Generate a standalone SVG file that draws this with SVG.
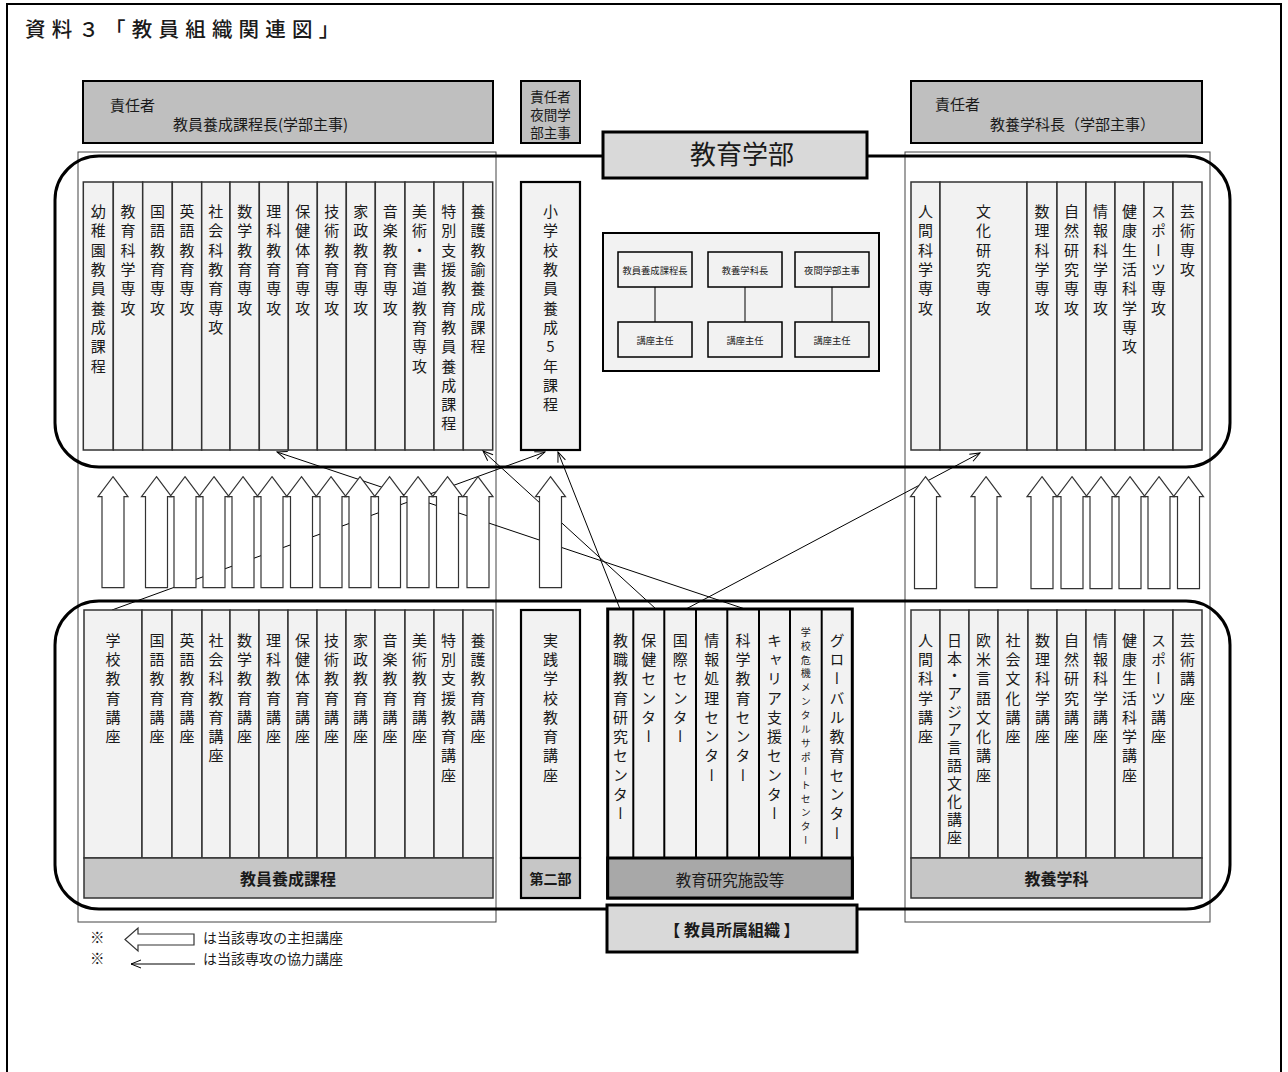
<svg xmlns="http://www.w3.org/2000/svg" width="1288" height="1072" viewBox="0 0 1288 1072">
<style>
text{font-family:"Noto Sans CJK JP","Noto Sans",sans-serif;fill:#1a1a1a}
.v{writing-mode:vertical-rl;text-orientation:upright;font-size:15px;letter-spacing:4.3px}
.vs{writing-mode:vertical-rl;text-orientation:upright;font-size:10px;letter-spacing:3.9px}
.col{fill:#f2f2f2;stroke:#333;stroke-width:1.5}
.colb{fill:#f2f2f2;stroke:#000;stroke-width:2.2}
.hdr{fill:#bfbfbf;stroke:#000;stroke-width:2}
.band{fill:#c6c6c6;stroke:#333;stroke-width:1.5}
.frame{fill:none;stroke:#444;stroke-width:1}
.round{fill:none;stroke:#000;stroke-width:3}
.blk{fill:#fff;stroke:#333;stroke-width:1.2}
.thin{fill:none;stroke:#000;stroke-width:1}
.sm{font-size:9.3px;text-anchor:middle}
.h15{font-size:15px}
.bold{font-weight:bold;text-anchor:middle}
</style>
<defs>
<marker id="oa" markerWidth="12" markerHeight="10" refX="11" refY="5" orient="auto" markerUnits="userSpaceOnUse">
<path d="M1,1 L11,5 L1,9" fill="none" stroke="#000" stroke-width="1"/>
</marker>
</defs>
<rect x="7" y="4" width="1274" height="1080" fill="#fff" stroke="#000" stroke-width="2"/>
<text x="25" y="37" style="font-size:20.5px;letter-spacing:6.2px;font-weight:500">資料３「教員組織関連図」</text>

<g id="frames">
<rect class="frame" x="78" y="152" width="418" height="770"/>
<rect class="frame" x="905" y="152" width="305" height="770"/>
<rect class="round" x="55" y="156" width="1175" height="311" rx="44"/>
<rect class="round" x="55" y="601" width="1175" height="308" rx="44"/>
</g>

<g id="hdr-left">
<rect class="hdr" x="83" y="81" width="410" height="62"/>
<text class="h15" x="110" y="111">責任者</text>
<text class="h15" x="173" y="130">教員養成課程長(学部主事)</text>
</g>
<g id="hdr-mid">
<rect class="hdr" x="521" y="81" width="59" height="62"/>
<text x="550.5" y="102" style="font-size:13.5px;text-anchor:middle">責任者</text>
<text x="550.5" y="120" style="font-size:13.5px;text-anchor:middle">夜間学</text>
<text x="550.5" y="138" style="font-size:13.5px;text-anchor:middle">部主事</text>
</g>
<g id="hdr-right">
<rect class="hdr" x="911" y="81" width="291" height="62"/>
<text class="h15" x="935" y="110">責任者</text>
<text class="h15" x="990" y="130">教養学科長（学部主事）</text>
</g>
<g id="faculty">
<rect x="603" y="132" width="264" height="46" fill="#d9d9d9" stroke="#000" stroke-width="3"/>
<text x="742" y="164" style="font-size:26px;text-anchor:middle">教育学部</text>
</g>

<g id="top-left-majors">
<rect class="col" x="83.3" y="182" width="30" height="268"/><text class="v" x="98.3" y="204">幼稚園教員養成課程</text>
<rect class="col" x="113.3" y="182" width="29.4" height="268"/><text class="v" x="128" y="204">教育科学専攻</text>
<rect class="col" x="142.7" y="182" width="29.6" height="268"/><text class="v" x="157.5" y="204">国語教育専攻</text>
<rect class="col" x="172.3" y="182" width="29.4" height="268"/><text class="v" x="187" y="204">英語教育専攻</text>
<rect class="col" x="201.7" y="182" width="28.3" height="268"/><text class="v" x="215.8" y="204">社会科教育専攻</text>
<rect class="col" x="230" y="182" width="29.3" height="268"/><text class="v" x="244.7" y="204">数学教育専攻</text>
<rect class="col" x="259.3" y="182" width="29" height="268"/><text class="v" x="273.8" y="204">理科教育専攻</text>
<rect class="col" x="288.3" y="182" width="29" height="268"/><text class="v" x="302.8" y="204">保健体育専攻</text>
<rect class="col" x="317.3" y="182" width="29" height="268"/><text class="v" x="331.8" y="204">技術教育専攻</text>
<rect class="col" x="346.3" y="182" width="29" height="268"/><text class="v" x="360.8" y="204">家政教育専攻</text>
<rect class="col" x="375.3" y="182" width="29.7" height="268"/><text class="v" x="390.2" y="204">音楽教育専攻</text>
<rect class="col" x="405" y="182" width="29" height="268"/><text class="v" x="419.5" y="204">美術・書道教育専攻</text>
<rect class="col" x="434" y="182" width="29.3" height="268"/><text class="v" x="448.7" y="204">特別支援教育教員養成課程</text>
<rect class="col" x="463.3" y="182" width="29.4" height="268"/><text class="v" x="478" y="204">養護教諭養成課程</text>
</g>

<g id="elementary">
<rect class="colb" x="521" y="182" width="59" height="268"/>
<text class="v" x="550.5" y="204">小学校教員養成5年課程</text>
</g>

<g id="leaders">
<rect x="603" y="233" width="276" height="138" fill="#f2f2f2" stroke="#000" stroke-width="2"/>
<rect x="618" y="252" width="74" height="35" fill="#f2f2f2" stroke="#000" stroke-width="1.5"/>
<rect x="708" y="252" width="74" height="35" fill="#f2f2f2" stroke="#000" stroke-width="1.5"/>
<rect x="795" y="252" width="74" height="35" fill="#f2f2f2" stroke="#000" stroke-width="1.5"/>
<rect x="618" y="322" width="74" height="35" fill="#f2f2f2" stroke="#000" stroke-width="1.5"/>
<rect x="708" y="322" width="74" height="35" fill="#f2f2f2" stroke="#000" stroke-width="1.5"/>
<rect x="795" y="322" width="74" height="35" fill="#f2f2f2" stroke="#000" stroke-width="1.5"/>
<path d="M655,287V322M745,287V322M832,287V322" stroke="#000" stroke-width="1"/>
<text class="sm" x="655" y="274">教員養成課程長</text>
<text class="sm" x="745" y="274">教養学科長</text>
<text class="sm" x="832" y="274">夜間学部主事</text>
<text class="sm" x="655" y="344">講座主任</text>
<text class="sm" x="745" y="344">講座主任</text>
<text class="sm" x="832" y="344">講座主任</text>
</g>

<g id="top-right-majors">
<rect class="col" x="911" y="182" width="29" height="268"/><text class="v" x="925.5" y="204">人間科学専攻</text>
<rect class="col" x="940" y="182" width="87" height="268"/><text class="v" x="983.5" y="204">文化研究専攻</text>
<rect class="col" x="1027" y="182" width="30" height="268"/><text class="v" x="1042" y="204">数理科学専攻</text>
<rect class="col" x="1057" y="182" width="29" height="268"/><text class="v" x="1071.5" y="204">自然研究専攻</text>
<rect class="col" x="1086" y="182" width="29" height="268"/><text class="v" x="1100.5" y="204">情報科学専攻</text>
<rect class="col" x="1115" y="182" width="29" height="268"/><text class="v" x="1129.5" y="204">健康生活科学専攻</text>
<rect class="col" x="1144" y="182" width="29" height="268"/><text class="v" x="1158.5" y="204">スポーツ専攻</text>
<rect class="col" x="1173" y="182" width="29" height="268"/><text class="v" x="1187.5" y="204">芸術専攻</text>
</g>

<g id="connectors">
<path class="thin" d="M112,610L545,452" marker-end="url(#oa)"/>
<path class="thin" d="M620,609L558,452" marker-end="url(#oa)"/>
<path class="thin" d="M656,609L483,451" marker-end="url(#oa)"/>
<path class="thin" d="M686,609L980,453" marker-end="url(#oa)"/>
<path class="thin" d="M745,609L277,452" marker-end="url(#oa)"/>
<g class="blk">
<path d="M113,476.7l15,20h-4v91h-22v-91h-4z"/>
<path d="M156.5,476.7l15,20h-4v91h-22v-91h-4z"/>
<path d="M185,476.7l15,20h-4v91h-22v-91h-4z"/>
<path d="M214,476.7l15,20h-4v91h-22v-91h-4z"/>
<path d="M243,476.7l15,20h-4v91h-22v-91h-4z"/>
<path d="M272,476.7l15,20h-4v91h-22v-91h-4z"/>
<path d="M301.5,476.7l15,20h-4v91h-22v-91h-4z"/>
<path d="M331,476.7l15,20h-4v91h-22v-91h-4z"/>
<path d="M360,476.7l15,20h-4v91h-22v-91h-4z"/>
<path d="M389.5,476.7l15,20h-4v91h-22v-91h-4z"/>
<path d="M418,476.7l15,20h-4v91h-22v-91h-4z"/>
<path d="M447.5,476.7l15,20h-4v91h-22v-91h-4z"/>
<path d="M478,476.7l15,20h-4v91h-22v-91h-4z"/>
<path d="M550.5,476.7l15,20h-4v91h-22v-91h-4z"/>
<path d="M925.5,476.7l15,20h-4v92h-22v-92h-4z"/>
<path d="M986,476.7l15,20h-4v91h-22v-91h-4z"/>
<path d="M1042,476.7l15,20h-4v92h-22v-92h-4z"/>
<path d="M1072,476.7l15,20h-4v92h-22v-92h-4z"/>
<path d="M1101,476.7l15,20h-4v92h-22v-92h-4z"/>
<path d="M1130,476.7l15,20h-4v92h-22v-92h-4z"/>
<path d="M1159,476.7l15,20h-4v92h-22v-92h-4z"/>
<path d="M1188.5,476.7l15,20h-4v92h-22v-92h-4z"/>
</g>
</g>

<g id="bottom-left-chairs">
<rect class="col" x="84" y="610" width="58" height="248"/><text class="v" x="113" y="632.5">学校教育講座</text>
<rect class="col" x="142" y="610" width="30" height="248"/><text class="v" x="157" y="632.5">国語教育講座</text>
<rect class="col" x="172" y="610" width="30" height="248"/><text class="v" x="187" y="632.5">英語教育講座</text>
<rect class="col" x="202" y="610" width="28" height="248"/><text class="v" x="216" y="632.5">社会科教育講座</text>
<rect class="col" x="230" y="610" width="29" height="248"/><text class="v" x="244.5" y="632.5">数学教育講座</text>
<rect class="col" x="259" y="610" width="29" height="248"/><text class="v" x="273.5" y="632.5">理科教育講座</text>
<rect class="col" x="288" y="610" width="29" height="248"/><text class="v" x="302.5" y="632.5">保健体育講座</text>
<rect class="col" x="317" y="610" width="29" height="248"/><text class="v" x="331.5" y="632.5">技術教育講座</text>
<rect class="col" x="346" y="610" width="29" height="248"/><text class="v" x="360.5" y="632.5">家政教育講座</text>
<rect class="col" x="375" y="610" width="30" height="248"/><text class="v" x="390" y="632.5">音楽教育講座</text>
<rect class="col" x="405" y="610" width="29" height="248"/><text class="v" x="419.5" y="632.5">美術教育講座</text>
<rect class="col" x="434" y="610" width="29" height="248"/><text class="v" x="448.5" y="632.5">特別支援教育講座</text>
<rect class="col" x="463" y="610" width="30" height="248"/><text class="v" x="478" y="632.5">養護教育講座</text>
<rect class="band" x="84" y="858" width="409" height="40"/>
<text class="bold" x="288" y="885" style="font-size:16px">教員養成課程</text>
</g>

<g id="practice">
<rect class="colb" x="521" y="610" width="59" height="248"/>
<text class="v" x="550.5" y="632.5">実践学校教育講座</text>
<rect x="521" y="858" width="59" height="40" fill="#c6c6c6" stroke="#000" stroke-width="2.2"/>
<text class="bold" x="550.5" y="884" style="font-size:14px">第二部</text>
</g>

<g id="centers">
<rect x="607.7" y="609" width="244.6" height="289" fill="#f2f2f2" stroke="#000" stroke-width="3"/>
<path d="M633.3,609V858M664.3,609V858M696,609V858M727.3,609V858M759,609V858M790,609V858M821.7,609V858" stroke="#000" stroke-width="2"/>
<rect x="607.7" y="858" width="244.6" height="40" fill="#a8a8a8" stroke="#000" stroke-width="3"/>
<text class="v" x="620.5" y="632.5">教職教育研究センター</text>
<text class="v" x="648.8" y="632.5">保健センター</text>
<text class="v" x="680.2" y="632.5">国際センター</text>
<text class="v" x="711.7" y="632.5">情報処理センター</text>
<text class="v" x="743" y="632.5">科学教育センター</text>
<text class="v" x="774.5" y="632.5">キャリア支援センター</text>
<text class="vs" x="805.8" y="627">学校危機メンタルサポートセンター</text>
<text class="v" x="837" y="632.5">グローバル教育センター</text>
<text x="730" y="886" style="font-size:15.5px;text-anchor:middle">教育研究施設等</text>
</g>

<g id="bottom-right-chairs">
<rect class="col" x="911" y="610" width="29" height="248"/><text class="v" x="925.5" y="632.5">人間科学講座</text>
<rect class="col" x="940" y="610" width="29" height="248"/><text class="v" x="954.5" y="632.5" style="letter-spacing:2.9px">日本・アジア言語文化講座</text>
<rect class="col" x="969" y="610" width="29" height="248"/><text class="v" x="983.5" y="632.5">欧米言語文化講座</text>
<rect class="col" x="998" y="610" width="30" height="248"/><text class="v" x="1013" y="632.5">社会文化講座</text>
<rect class="col" x="1028" y="610" width="29" height="248"/><text class="v" x="1042.5" y="632.5">数理科学講座</text>
<rect class="col" x="1057" y="610" width="29" height="248"/><text class="v" x="1071.5" y="632.5">自然研究講座</text>
<rect class="col" x="1086" y="610" width="29" height="248"/><text class="v" x="1100.5" y="632.5">情報科学講座</text>
<rect class="col" x="1115" y="610" width="29" height="248"/><text class="v" x="1129.5" y="632.5">健康生活科学講座</text>
<rect class="col" x="1144" y="610" width="29" height="248"/><text class="v" x="1158.5" y="632.5">スポーツ講座</text>
<rect class="col" x="1173" y="610" width="29" height="248"/><text class="v" x="1187.5" y="632.5">芸術講座</text>
<rect class="band" x="911" y="858" width="291" height="40"/>
<text class="bold" x="1056.5" y="885" style="font-size:16px">教養学科</text>
</g>

<g id="affiliation">
<rect x="607" y="905" width="250" height="47" fill="#d9d9d9" stroke="#000" stroke-width="3"/>
<text class="bold" x="732" y="936" style="font-size:16px">【 教員所属組織 】</text>
</g>

<g id="legend">
<text x="90" y="943" style="font-size:14.5px">※</text>
<text x="90" y="964" style="font-size:14.5px">※</text>
<path class="blk" d="M125,939.5l13,-11.5v6h56v11h-56v6z"/>
<path class="thin" d="M195,964H131" marker-end="url(#oa)"/>
<text x="203" y="943" style="font-size:14px">は当該専攻の主担講座</text>
<text x="203" y="964" style="font-size:14px">は当該専攻の協力講座</text>
</g>
</svg>
